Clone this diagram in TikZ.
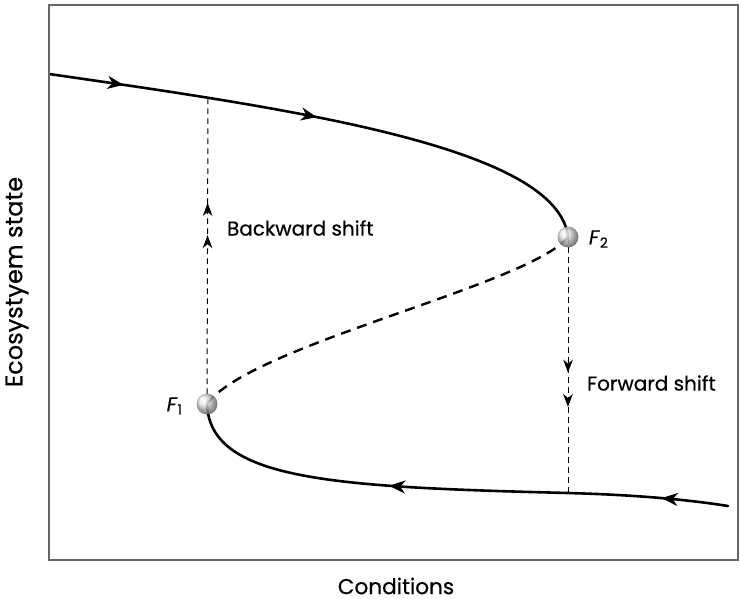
\documentclass[tikz,border=0pt]{standalone}
\usepackage{fontspec}
\setmainfont{Poppins}[FakeBold=0.5]
\usetikzlibrary{arrows.meta,positioning,decorations.markings}
\pgfdeclarelayer{background}
\pgfsetlayers{background,main}

\begin{document}
\begin{tikzpicture}[
  x=0.5pt, y=-0.5pt,
  frame/.style={draw=black!60, line width=0.8pt},
  branch/.style={line width=1.3pt, line cap=round},
  unstable/.style={line width=1.2pt, dash pattern=on 5pt off 3.5pt},
  jumpline/.style={line width=0.5pt, dash pattern=on 2.8pt off 2.2pt},
  fold/.style={circle, minimum size=10.5pt, inner sep=0pt, shading=ball, ball color=gray!18, opacity=0.85},
  lbl/.style={font=\fontsize{10}{12}\selectfont},
  flow/.style 2 args={postaction={decorate}, decoration={markings,
    mark=at position #1 with {\arrow{Stealth[length=8pt,width=6.5pt,inset=2.5pt]}},
    mark=at position #2 with {\arrow{Stealth[length=8pt,width=6.5pt,inset=2.5pt]}}}},
  jumpflow/.style 2 args={postaction={decorate}, decoration={markings,
    mark=at position #1 with {\pgfsetdash{}{0pt}\arrow{Stealth[length=6.5pt,width=4.8pt,inset=2pt]}},
    mark=at position #2 with {\pgfsetdash{}{0pt}\arrow{Stealth[length=6.5pt,width=4.8pt,inset=2pt]}}}}
]
\useasboundingbox (0,0) rectangle (740,599);
\draw[frame] (49,5) rectangle (738,560);

% fold points
\node[fold] (F2) at (568,237) {};
\node[fold] (F1) at (207,404) {};
\coordinate (upstart) at (49,74);
\coordinate (uptop) at (208,97);
\coordinate (lowbot) at (568,493);
\coordinate (lowend) at (728,506);

% labels
\node[lbl, right=1.5pt of F2, yshift=-1pt] (F2lab) {\textit{F}\textsubscript{2}};
\node[lbl, left=3pt of F1, yshift=-1pt] (F1lab) {\textit{F}\textsubscript{1}};
\node[lbl, anchor=west] (back) at (220,228) {Backward shift};
\node[lbl, anchor=west] (fwd) at (580,383) {Forward shift};
\node[lbl, font=\fontsize{12}{14}\selectfont, rotate=90] (ylab) at (17,282) {Ecosystyem state};
\node[lbl, font=\fontsize{10.8}{13}\selectfont] (xlab) at (396,586) {Conditions};

\begin{pgfonlayer}{background}
\draw[branch, flow={0.134}{0.483}] (upstart) .. controls (300,110) and (558,148) .. (F2.center);
\draw[unstable] (F2.center) .. controls (530,285) and (250,345) .. (F1.center);
\draw[branch, flow={0.12}{0.61}] (lowend) .. controls (690,500) and (640,495) .. (lowbot)
  .. controls (330,487) and (210,480) .. (F1.center);
\draw[jumpline, jumpflow={0.55}{0.655}] (F1.center) -- (uptop);
\draw[jumpline, jumpflow={0.53}{0.664}] (F2.center) -- (lowbot);
\end{pgfonlayer}
\end{tikzpicture}
\end{document}
